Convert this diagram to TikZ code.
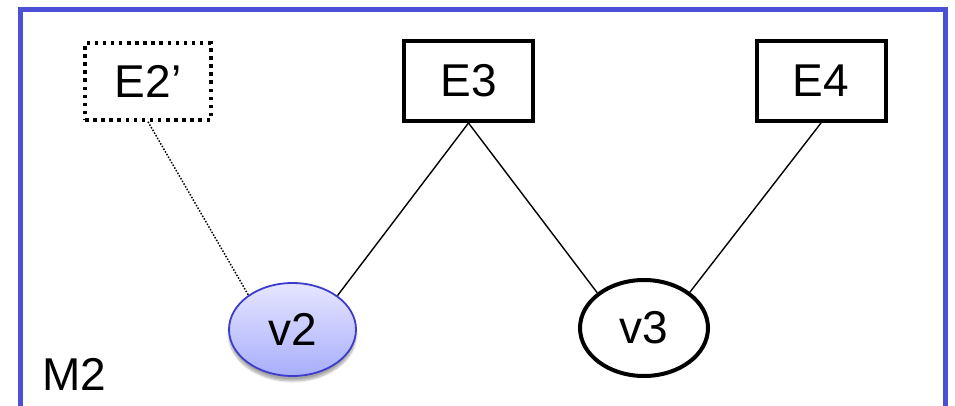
\documentclass[tikz,border=0pt]{standalone}
\usepackage{fontspec}
\setmainfont{Liberation Sans}
\usetikzlibrary{shapes.geometric,shadows.blur}
\definecolor{framecol}{RGB}{76,80,214}
\definecolor{nodeblue}{RGB}{60,60,200}
\definecolor{shadetop}{RGB}{230,230,255}
\definecolor{shadebot}{RGB}{168,174,252}
\tikzset{
  entity/.style={draw, rectangle, line width=4pt, minimum width=129pt,
    minimum height=80pt, inner sep=0pt, font=\fontsize{46}{50}\selectfont},
  ghost/.style={draw, rectangle, line width=3.5pt, dash pattern=on 3.5pt off 4.6pt,
    minimum width=126pt, minimum height=77pt, inner sep=0pt,
    font=\fontsize{46}{50}\selectfont},
  vnode/.style={draw, ellipse, inner sep=0pt, font=\fontsize{46}{50}\selectfont},
  link/.style={line width=1.4pt},
  dotlink/.style={line width=1.5pt, dash pattern=on 1.5pt off 1.6pt},
}
\begin{document}
\begin{tikzpicture}[x=1pt,y=-1pt]
  \useasboundingbox (0,0) rectangle (955,406);
  \clip (0,0) rectangle (955,406);
  % enclosing frame, open at the bottom edge of the page
  \draw[framecol, line width=5pt] (20.5,10) rectangle (945.5,440);
  \node[anchor=base west, inner sep=0pt, font=\fontsize{46}{50}\selectfont] (m2) at (42,390) {M2};

  % entities
  \node[ghost]  (e2) at (148,81.5) {E2’};
  \node[entity] (e3) at (468.5,81) {E3};
  \node[entity] (e4) at (821,81) {E4};

  % vertices
  \node[vnode, draw=nodeblue, line width=1.8pt, minimum width=127pt, minimum height=93pt,
        top color=shadetop, bottom color=shadebot,
        blur shadow={shadow xshift=0pt, shadow yshift=-5pt, shadow blur steps=8, shadow opacity=35}]
        (v2) at (292.5,329.5) {v2};
  \node[vnode, line width=4pt, minimum width=128pt, minimum height=96pt]
        (v3) at (644,328) {v3};

  % connectors
  \draw[dotlink] (e2.south) -- (v2.142);
  \draw[link] (e3.south) -- (v2.37);
  \draw[link] (e3.south) -- (v3.143);
  \draw[link] (e4.south) -- (v3.38);
\end{tikzpicture}
\end{document}
